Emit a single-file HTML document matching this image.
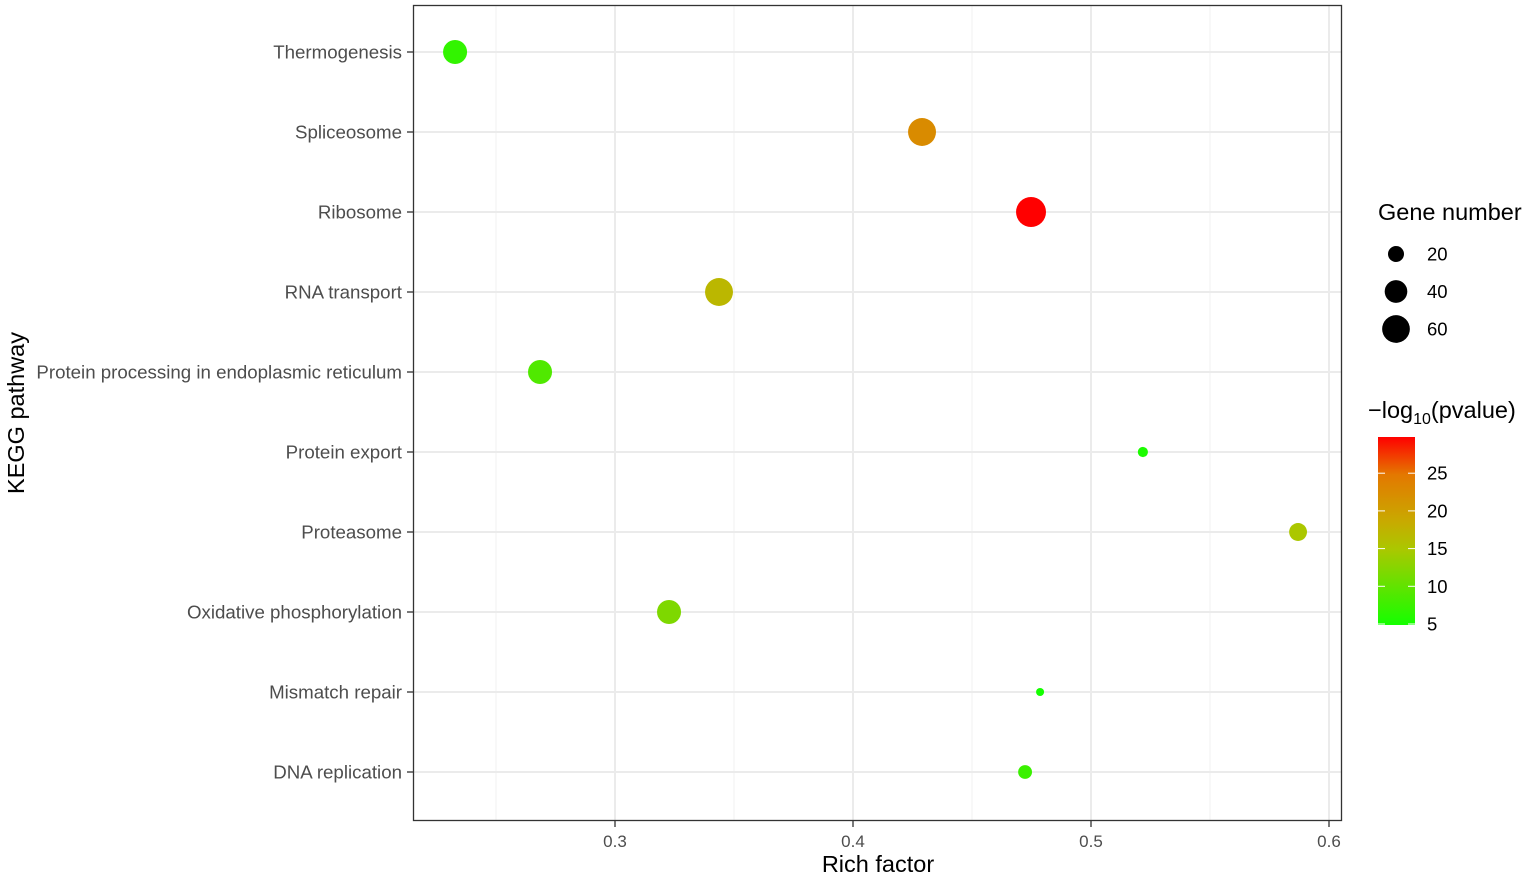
<!DOCTYPE html>
<html><head><meta charset="utf-8"><style>
html,body{margin:0;padding:0;background:#fff}
svg{display:block;font-family:"Liberation Sans",Arial,sans-serif}
</style></head><body>
<svg id="chart" width="1535" height="877" viewBox="0 0 1535 877" xmlns="http://www.w3.org/2000/svg">
<defs><linearGradient id="cbar" x1="0" y1="1" x2="0" y2="0"></linearGradient></defs>
<g id="grid"></g>
<g id="points"></g>
<rect x="413.5" y="5.5" width="928" height="815" fill="none" stroke="#333" stroke-width="1.3"/>
<g id="yaxis"></g>
<g id="xaxis"></g>
<text x="878" y="872" font-size="23.5" text-anchor="middle" fill="#000">Rich factor</text>
<text transform="translate(24,413) rotate(-90)" font-size="23.5" text-anchor="middle" fill="#000">KEGG pathway</text>
<g id="legend">
<text x="1378" y="220" font-size="23.5" fill="#000">Gene number</text>
<text x="1368" y="418" font-size="23.5" fill="#000">−log<tspan font-size="16" dy="6">10</tspan><tspan dy="-6">(pvalue)</tspan></text>
<rect x="1378" y="437" width="37" height="188" fill="url(#cbar)"/>
</g>
</svg>
<script>
const categories=["Thermogenesis","Spliceosome","Ribosome","RNA transport","Protein processing in endoplasmic reticulum","Protein export","Proteasome","Oxidative phosphorylation","Mismatch repair","DNA replication"];
const richFactor=[0.2328,0.429,0.4748,0.3437,0.2685,0.5218,0.587,0.3227,0.4786,0.4723];
const geneNumber=[45,61,70,61,45,8,25,45,5,15];
const negLogP=[7,22.5,29.8,17,9,5.5,15,12,5,7.5];
const xTicks=[0.3,0.4,0.5,0.6];
const xMinor=[0.25,0.35,0.45,0.55];
const sizeLegend=[20,40,60];
const colorTicks=[5,10,15,20,25];
const colorMin=5,colorMax=29.8;

const NS="http://www.w3.org/2000/svg";
const X=v=>615+(v-0.3)*2380;
const Y=i=>52+i*80;
const R=n=>1.79*Math.sqrt(n);
const CY=v=>624-(v-5)*7.54;
const stops=[[0,[20,255,0]],[0.4,[170,200,0]],[0.55,[200,170,0]],[0.8,[228,120,0]],[1,[255,0,0]]];
function col(v){let t=Math.max(0,Math.min(1,(v-colorMin)/(colorMax-colorMin)));
 for(let i=1;i<stops.length;i++){if(t<=stops[i][0]){const a=stops[i-1],b=stops[i],u=(t-a[0])/(b[0]-a[0]);
 const c=a[1].map((x,k)=>Math.round(x+(b[1][k]-x)*u));return `rgb(${c.join(',')})`;}}return "rgb(255,0,0)";}
function mk(tag,attrs,parent,text){const e=document.createElementNS(NS,tag);for(const k in attrs)e.setAttribute(k,attrs[k]);if(text!==undefined)e.textContent=text;parent.appendChild(e);return e;}
const g=document.getElementById('grid'),p=document.getElementById('points'),ya=document.getElementById('yaxis'),xa=document.getElementById('xaxis'),lg=document.getElementById('legend');
xMinor.forEach(v=>{const l=mk('line',{x1:X(v),x2:X(v),y1:6,y2:820,stroke:'#f2f2f2','stroke-width':1},g);

});
xTicks.forEach(v=>{const l=mk('line',{x1:X(v),x2:X(v),y1:6,y2:820,stroke:'#ebebeb','stroke-width':2},g);


const t=mk('line',{x1:X(v),x2:X(v),y1:821,y2:827,stroke:'#333','stroke-width':1.3},xa);


const tx=mk('text',{x:X(v),y:847,'font-size':17,'text-anchor':'middle',fill:'#4d4d4d'},xa,String(v));

});
categories.forEach((c,i)=>{const l=mk('line',{x1:414,x2:1341,y1:Y(i),y2:Y(i),stroke:'#ebebeb','stroke-width':2},g);


const t=mk('line',{x1:407,x2:413,y1:Y(i),y2:Y(i),stroke:'#333','stroke-width':1.3},ya);


const tx=mk('text',{x:402,y:Y(i)+6.5,'font-size':18.7,'text-anchor':'end',fill:'#4d4d4d'},ya,c);


const d=mk('circle',{cx:X(richFactor[i]),cy:Y(i),r:R(geneNumber[i]),fill:col(negLogP[i])},p);

});
sizeLegend.forEach((n,i)=>{const cy=254+i*37.5;
const d=mk('circle',{cx:1396,cy:cy,r:R(n),fill:'#000'},lg);


const t=mk('text',{x:1427,y:cy+6.5,'font-size':18.5,fill:'#000'},lg,String(n));

});
const grad=document.getElementById('cbar');
for(let k=0;k<=20;k++){const v=colorMin+(colorMax-colorMin)*k/20;mk('stop',{offset:(k*5)+'%','stop-color':col(v)},grad);}
colorTicks.forEach(v=>{const y=CY(v);
[[1378,1385],[1408,1415]].forEach(([a,b])=>{const l=mk('line',{x1:a,x2:b,y1:y,y2:y,stroke:'#fff','stroke-width':1},lg);

});
const t=mk('text',{x:1427,y:y+6.5,'font-size':18.5,fill:'#000'},lg,String(v));

});
</script>
</body></html>
